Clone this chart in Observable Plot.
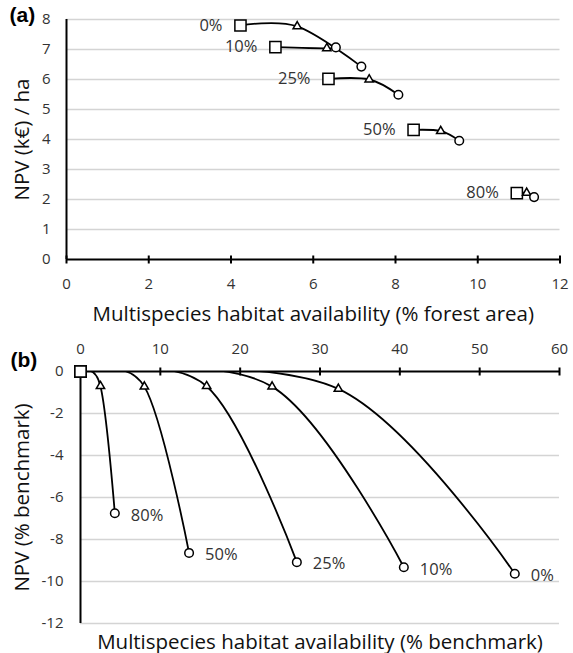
<!DOCTYPE html>
<html><head><meta charset="utf-8">
<script src="https://cdn.jsdelivr.net/npm/d3@7"></script>
<script src="https://cdn.jsdelivr.net/npm/@observablehq/plot@0.6"></script>
<style>
body{margin:0;background:#fff;}
#chart{width:573px;}
#chart svg{display:block;}
</style></head><body><div id="chart"></div>
<script>
// ---- data ----
const seriesLabels = ["0%", "10%", "25%", "50%", "80%"];

// panel (a): NPV (k€/ha) vs multispecies habitat availability (% forest area)
const aSquareX = [4.23, 5.08, 6.37, 8.44, 10.95];
const aSquareY = [7.80, 7.08, 6.02, 4.32, 2.21];
const aTriX = [5.61, 6.33, 7.36, 9.10, 11.19];
const aTriY = [7.77, 7.04, 6.00, 4.28, 2.22];
const aCircX = [7.17, 6.55, 8.07, 9.55, 11.37];
const aCircY = [6.43, 7.07, 5.49, 3.96, 2.08];
const aXTicks = [0, 2, 4, 6, 8, 10, 12];
const aYTicks = [0, 1, 2, 3, 4, 5, 6, 7, 8];

// panel (b): NPV (% benchmark) vs habitat availability (% benchmark)
const bSquareX = [0, 0, 0, 0, 0];
const bSquareY = [0, 0, 0, 0, 0];
const bTriX = [32.3, 24.0, 15.8, 8.0, 2.5];
const bTriY = [-0.83, -0.72, -0.70, -0.72, -0.70];
const bCircX = [54.4, 40.5, 27.1, 13.6, 4.3];
const bCircY = [-9.63, -9.32, -9.08, -8.64, -6.75];
const bXTicks = [0, 10, 20, 30, 40, 50, 60];
const bYTicks = [0, -2, -4, -6, -8, -10, -12];

const aXLabel = "Multispecies habitat availability (% forest area)";
const aYLabel = "NPV (k€) / ha";
const bXLabel = "Multispecies habitat availability (% benchmark)";
const bYLabel = "NPV (% benchmark)";

// ---- helpers ----
function rows(label, sx, sy, tx, ty, cx, cy) {
  const out = [];
  label.forEach((s, i) => {
    out.push({s, k: "sq", x: sx[i], y: sy[i]});
    out.push({s, k: "tri", x: tx[i], y: ty[i]});
    out.push({s, k: "circ", x: cx[i], y: cy[i]});
  });
  return out;
}
const tickSym = {draw(ctx) { ctx.moveTo(0, -4); ctx.lineTo(0, 4); }};
const FONT = "'Open Sans', 'Noto Sans', sans-serif";
const TXT = "#333";
const TITLE_SIZE = 20.5;
const LABEL_SIZE = 16.5;

function markers(data) {
  return [
    Plot.dot(data.filter(d => d.k === "sq"), {x: "x", y: "y", symbol: "square", r: 6.3, fill: "white", stroke: "black", strokeWidth: 1.5}),
    Plot.dot(data.filter(d => d.k === "tri"), {x: "x", y: "y", symbol: "triangle", r: 3.1, fill: "white", stroke: "black", strokeWidth: 1.5}),
    Plot.dot(data.filter(d => d.k === "circ"), {x: "x", y: "y", symbol: "circle", r: 4.3, fill: "white", stroke: "black", strokeWidth: 1.5})
  ];
}

// ---- panel (a) ----
const aData = rows(seriesLabels, aSquareX, aSquareY, aTriX, aTriY, aCircX, aCircY);
const plotA = Plot.plot({
  width: 573, height: 330,
  marginLeft: 66, marginRight: 13.5, marginTop: 19, marginBottom: 71,
  style: {fontFamily: FONT, fontSize: "15px", color: TXT, background: "white"},
  x: {domain: [0, 12]},
  y: {domain: [0, 8]},
  marks: [
    Plot.ruleY(aYTicks.filter(d => d !== 0), {stroke: "#d4d4d4", strokeWidth: 1.5}),
    Plot.axisX({ticks: aXTicks, tickSize: 0, tickPadding: 18.5, label: null, fill: TXT}),
    Plot.axisY({ticks: aYTicks, tickSize: 0, tickPadding: 16, label: null, fill: TXT}),
    Plot.ruleX([0], {stroke: "black", strokeWidth: 2}),
    Plot.ruleY([0], {stroke: "black", strokeWidth: 2}),
    Plot.dot(aXTicks, {x: d => d, y: 0, symbol: tickSym, stroke: "black", strokeWidth: 2, fill: "none"}),
    Plot.line(aData, {x: "x", y: "y", z: "s", curve: "cardinal", stroke: "black", strokeWidth: 1.8}),
    ...markers(aData),
    Plot.text(seriesLabels.map((s, i) => ({s, x: aSquareX[i], y: aSquareY[i]})), {x: "x", y: "y", text: "s", textAnchor: "end", dx: -18, fontSize: LABEL_SIZE, fill: TXT}),
    Plot.text([aXLabel], {text: d => d, frameAnchor: "bottom", textAnchor: "middle", lineAnchor: "bottom", dy: 61, fontSize: TITLE_SIZE, fill: "#111"}),
    Plot.text([aYLabel], {text: d => d, frameAnchor: "left", textAnchor: "middle", rotate: -90, lineAnchor: "bottom", dx: -37.7, fontSize: TITLE_SIZE, fill: "#111"}),
    Plot.text(["(a)"], {text: d => d, frameAnchor: "top-left", textAnchor: "start", lineAnchor: "bottom", dx: -57, dy: 2, fontSize: 21, fontWeight: "bold", fontFamily: "'Liberation Sans', Arial, sans-serif", fill: "black"})
  ]
});

// ---- panel (b) ----
const bData = rows(seriesLabels, bSquareX, bSquareY, bTriX, bTriY, bCircX, bCircY);
const plotB = Plot.plot({
  width: 573, height: 323,
  marginLeft: 80, marginRight: 14, marginTop: 41, marginBottom: 30,
  style: {fontFamily: FONT, fontSize: "15px", color: TXT, background: "white"},
  x: {domain: [0, 60]},
  y: {domain: [-12, 0]},
  marks: [
    Plot.ruleY(bYTicks.filter(d => d !== 0), {stroke: "#d4d4d4", strokeWidth: 1.5}),
    Plot.axisX({anchor: "top", ticks: bXTicks, tickSize: 0, tickPadding: 17.5, label: null, fill: TXT}),
    Plot.axisY({ticks: bYTicks, tickSize: 0, tickPadding: 17, label: null, tickFormat: d => String(d), fill: TXT}),
    Plot.line(bData, {x: "x", y: "y", z: "s", curve: "cardinal", stroke: "black", strokeWidth: 1.8, clip: true}),
    Plot.ruleX([0], {stroke: "black", strokeWidth: 2}),
    Plot.ruleY([0], {stroke: "black", strokeWidth: 2}),
    Plot.dot(bXTicks, {x: d => d, y: 0, symbol: tickSym, stroke: "black", strokeWidth: 2, fill: "none"}),
    ...markers(bData),
    Plot.text(seriesLabels.map((s, i) => ({s, x: bCircX[i], y: bCircY[i]})), {x: "x", y: "y", text: "s", textAnchor: "start", dx: 16, dy: 2, fontSize: LABEL_SIZE, fill: TXT}),
    Plot.text([bXLabel], {text: d => d, frameAnchor: "bottom", textAnchor: "middle", lineAnchor: "bottom", dy: 25, fontSize: TITLE_SIZE, fill: "#111"}),
    Plot.text([bYLabel], {text: d => d, frameAnchor: "left", textAnchor: "middle", rotate: -90, lineAnchor: "bottom", dx: -51.7, fontSize: TITLE_SIZE, fill: "#111"}),
    Plot.text(["(b)"], {text: d => d, frameAnchor: "top-left", textAnchor: "start", lineAnchor: "bottom", dx: -70, dy: -5, fontSize: 21, fontWeight: "bold", fontFamily: "'Liberation Sans', Arial, sans-serif", fill: "black"})
  ]
});

document.getElementById("chart").append(plotA, plotB);
</script></body></html>
